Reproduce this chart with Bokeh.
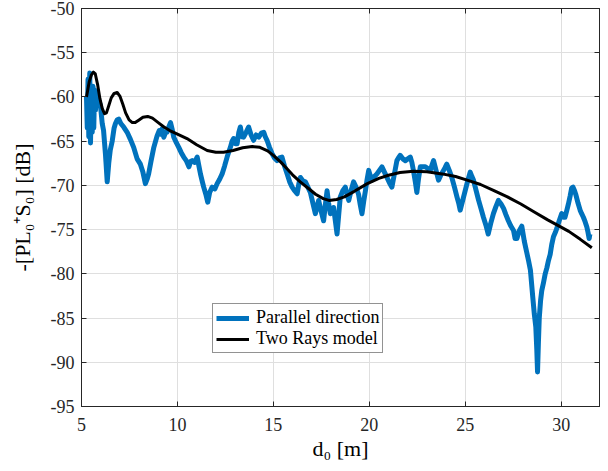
from bokeh.plotting import figure
from bokeh.models import LinearAxis, FixedTicker, Legend, LegendItem, Range1d
from bokeh.embed import file_html
from bokeh.resources import INLINE

# Measured received level along the parallel direction
d_meas = [5.26, 5.30, 5.34, 5.38, 5.43, 5.47, 5.52, 5.56, 5.60, 5.64, 5.68, 5.73,
          5.78, 5.84, 5.90, 5.99, 6.08, 6.15, 6.25, 6.34, 6.42, 6.50, 6.60, 6.70,
          6.77, 6.86, 6.94, 7.05, 7.20, 7.38, 7.55, 7.72, 7.90, 8.07, 8.20, 8.33,
          8.42, 8.50, 8.62, 8.77, 8.94, 9.05, 9.11, 9.20, 9.29, 9.38, 9.46, 9.55,
          9.64, 9.72, 9.81, 9.95, 10.07, 10.20, 10.33, 10.46, 10.60, 10.69, 10.77,
          10.90, 11.03, 11.12, 11.20, 11.30, 11.37, 11.48, 11.58, 11.68, 11.81,
          11.95, 12.07, 12.20, 12.33, 12.46, 12.59, 12.68, 12.76, 12.85, 12.93,
          13.02, 13.11, 13.20, 13.28, 13.37, 13.45, 13.58, 13.71, 13.84, 13.97,
          14.10, 14.24, 14.37, 14.50, 14.58, 14.67, 14.80, 14.93, 15.06, 15.19,
          15.32, 15.45, 15.58, 15.72, 15.85, 15.98, 16.11, 16.24, 16.33, 16.41,
          16.54, 16.67, 16.80, 16.93, 17.06, 17.19, 17.28, 17.36, 17.50, 17.62,
          17.71, 17.80, 17.88, 17.97, 18.06, 18.14, 18.23, 18.32, 18.40, 18.49,
          18.62, 18.75, 18.84, 18.93, 19.05, 19.18, 19.31, 19.44, 19.53, 19.62,
          19.71, 19.80, 19.88, 19.97, 20.05, 20.14, 20.27, 20.40, 20.53, 20.66,
          20.79, 20.92, 21.05, 21.18, 21.31, 21.44, 21.52, 21.61, 21.75, 21.88,
          22.01, 22.14, 22.22, 22.30, 22.40, 22.48, 22.57, 22.66, 22.79, 22.92,
          23.05, 23.18, 23.27, 23.35, 23.48, 23.61, 23.74, 23.87, 23.95, 24.04,
          24.17, 24.30, 24.44, 24.57, 24.66, 24.74, 24.87, 25.00, 25.13, 25.26,
          25.35, 25.43, 25.56, 25.70, 25.82, 25.95, 26.08, 26.20, 26.33, 26.47,
          26.60, 26.73, 26.87, 27.00, 27.12, 27.25, 27.38, 27.52, 27.60, 27.70,
          27.80, 27.95, 28.08, 28.20, 28.30, 28.40, 28.52, 28.60, 28.68, 28.73,
          28.77, 28.82, 28.86, 28.93, 28.99, 29.08, 29.17, 29.26, 29.34, 29.43,
          29.51, 29.60, 29.70, 29.77, 29.90, 30.03, 30.12, 30.20, 30.30, 30.38,
          30.47, 30.55, 30.62, 30.70, 30.76, 30.88, 30.99, 31.07, 31.16, 31.25,
          31.34, 31.40, 31.46, 31.50]
level_meas = [-60.0, -63.5, -58.0, -64.5, -57.3, -65.2, -59.0, -64.0, -58.8, -63.5,
              -59.2, -61.5, -59.4, -60.2, -60.4, -61.0, -63.0, -63.8, -66.5, -69.6,
              -67.5, -66.0, -65.0, -63.5, -63.0, -62.6, -62.5, -63.0, -63.4, -64.0,
              -64.8, -65.7, -67.0, -67.6, -68.5, -69.8, -69.3, -68.7, -67.3, -65.7,
              -64.4, -63.8, -64.2, -63.6, -64.55, -64.0, -64.0, -63.4, -62.9, -63.6,
              -64.55, -65.2, -65.7, -66.3, -66.8, -67.2, -67.9, -67.3, -67.2, -67.4,
              -66.8, -67.8, -68.7, -69.6, -70.2, -71.0, -71.9, -70.8, -70.2, -70.4,
              -69.8, -69.3, -68.7, -67.8, -66.8, -66.2, -65.7, -65.0, -64.7, -65.3,
              -65.3, -64.0, -63.4, -64.5, -64.55, -64.0, -63.4, -64.3, -64.9, -64.3,
              -64.55, -64.1, -64.0, -64.5, -64.9, -65.7, -66.4, -66.9, -67.2, -66.9,
              -66.8, -67.8, -68.7, -69.6, -70.2, -70.6, -70.95, -69.8, -69.1, -69.5,
              -69.6, -70.2, -70.8, -72.0, -73.2, -72.4, -71.7, -73.0, -74.0, -72.2,
              -70.6, -72.0, -73.2, -72.8, -72.5, -74.0, -75.5, -73.5, -71.3, -70.6,
              -70.2, -71.0, -71.7, -70.6, -69.6, -70.2, -71.0, -72.2, -73.2, -71.8,
              -70.6, -69.4, -68.3, -68.9, -69.4, -69.0, -68.7, -68.3, -67.9, -68.5,
              -69.1, -69.7, -70.2, -68.7, -67.2, -66.9, -66.6, -67.0, -67.2, -67.0,
              -66.8, -67.4, -68.3, -69.6, -70.8, -69.2, -67.9, -67.9, -67.9, -68.1,
              -68.3, -67.7, -67.2, -68.3, -69.4, -68.8, -68.3, -68.0, -67.6, -68.3,
              -69.1, -70.2, -71.3, -72.0, -72.8, -71.7, -70.6, -69.5, -68.5, -69.0,
              -69.4, -70.5, -71.7, -72.6, -73.6, -74.5, -75.5, -74.3, -73.2, -72.4,
              -71.7, -72.1, -72.6, -73.3, -74.0, -74.6, -75.1, -76.0, -76.0, -75.2,
              -74.6, -76.3, -77.5, -78.5, -79.6, -82.6, -84.5, -86.0, -88.5, -91.1,
              -87.5, -85.0, -83.0, -81.9, -81.0, -80.0, -79.3, -78.5, -77.8, -76.7,
              -75.8, -75.3, -74.9, -74.0, -73.2, -73.6, -73.6, -72.8, -72.1, -71.2,
              -70.3, -70.2, -70.6, -71.0, -72.0, -72.8, -73.2, -73.6, -74.1, -74.7,
              -75.3, -76.0, -75.5]

# Two-ray model prediction
d_model = [5.26, 5.40, 5.52, 5.62, 5.72, 5.84, 5.96, 6.08, 6.20, 6.30, 6.42, 6.55,
           6.70, 6.86, 7.00, 7.15, 7.30, 7.48, 7.65, 7.80, 8.00, 8.20, 8.45, 8.70,
           9.00, 9.30, 9.60, 10.00, 10.50, 11.00, 11.55, 12.00, 12.40, 12.90, 13.40,
           13.90, 14.30, 14.70, 15.00, 15.40, 15.70, 16.00, 16.40, 16.80, 17.20,
           17.60, 17.90, 18.30, 18.70, 19.20, 19.90, 20.50, 21.00, 21.60, 22.30,
           23.00, 23.80, 24.50, 25.10, 25.80, 26.50, 27.20, 27.90, 28.60, 29.30,
           29.90, 30.40, 31.00, 31.60]
level_model = [-60.0, -58.3, -57.5, -57.2, -57.4, -58.6, -60.2, -61.3, -61.9, -61.8,
               -61.0, -60.1, -59.6, -59.5, -59.9, -60.8, -61.8, -62.6, -62.9, -62.9,
               -62.6, -62.3, -62.2, -62.4, -62.9, -63.4, -63.8, -64.2, -64.7, -65.4,
               -66.05, -66.25, -66.25, -66.05, -65.75, -65.6, -65.7, -66.1, -66.6,
               -67.4, -68.1, -68.8, -69.6, -70.3, -71.0, -71.5, -71.7, -71.6, -71.3,
               -70.7, -69.8, -69.2, -68.85, -68.55, -68.4, -68.45, -68.7, -69.0,
               -69.4, -69.9, -70.6, -71.3, -72.1, -73.0, -73.9, -74.6, -75.2, -76.1,
               -77.06]

x_ticks = [5, 10, 15, 20, 25, 30]
x_tick_labels = ["5", "10", "15", "20", "25", "30"]
y_ticks = [-95, -90, -85, -80, -75, -70, -65, -60, -55, -50]
y_tick_labels = ["-95", "-90", "-85", "-80", "-75", "-70", "-65", "-60", "-55", "-50"]
series_names = ["Parallel direction", "Two Rays model"]
x_title = "d\u2080 [m]"
y_title = "-[PL\u2080\u207aS\u2080] [dB]"

SERIF = "Liberation Serif, Times New Roman, serif"
AX = "#262626"
BLUE = "#0072BD"

p = figure(width=608, height=471, output_backend="svg", toolbar_location=None,
           x_range=Range1d(5, 32), y_range=Range1d(-95, -50),
           min_border_left=81, min_border_right=9, min_border_top=8,
           min_border_bottom=65)
p.background_fill_color = "white"
p.border_fill_color = "white"
p.outline_line_color = AX
p.outline_line_width = 1

for ax in (p.xaxis[0], p.yaxis[0]):
    ax.axis_line_color = AX
    ax.major_tick_line_color = AX
    ax.major_tick_in = 5
    ax.major_tick_out = 0
    ax.minor_tick_line_color = None
    ax.major_label_text_font = SERIF
    ax.major_label_text_font_style = "normal"
    ax.major_label_text_font_size = "18px"
    ax.major_label_text_color = AX
    ax.axis_label_text_font = SERIF
    ax.axis_label_text_font_size = "22px"
    ax.axis_label_text_font_style = "normal"
    ax.axis_label_text_color = "black"
p.xaxis.ticker = FixedTicker(ticks=x_ticks)
p.yaxis.ticker = FixedTicker(ticks=y_ticks)
p.xaxis.major_label_overrides = dict(zip(x_ticks, x_tick_labels))
p.yaxis.major_label_overrides = dict(zip(y_ticks, y_tick_labels))
p.xaxis.major_label_standoff = 11
p.yaxis.major_label_standoff = 7
p.xaxis.axis_label = x_title
p.yaxis.axis_label = y_title
p.xaxis.axis_label_standoff = 2
p.yaxis.axis_label_standoff = 13

# tick marks on the top and right edges of the box (no labels there)
for side, ticks in (("above", x_ticks), ("right", y_ticks)):
    edge = LinearAxis(ticker=FixedTicker(ticks=ticks), major_tick_in=5,
                      major_tick_out=0, minor_tick_line_color=None,
                      major_label_overrides={t: "" for t in ticks},
                      major_label_text_color=None, major_label_text_alpha=0,
                      major_label_text_font_size="1px", major_label_standoff=0,
                      axis_line_color=AX, major_tick_line_color=AX)
    p.add_layout(edge, side)

p.xgrid.ticker = FixedTicker(ticks=x_ticks)
p.ygrid.ticker = FixedTicker(ticks=y_ticks)
p.xgrid.grid_line_color = "#dfdfdf"
p.ygrid.grid_line_color = "#dfdfdf"

r_meas = p.line(d_meas, level_meas, line_color=BLUE, line_width=5, line_join="round")
r_model = p.line(d_model, level_model, line_color="black", line_width=3, line_join="round")

legend = Legend(items=[LegendItem(label=series_names[0], renderers=[r_meas]),
                       LegendItem(label=series_names[1], renderers=[r_model])],
                location=(131, 53), orientation="vertical")
legend.label_text_font = SERIF
legend.label_text_font_style = "normal"
legend.label_text_font_size = "18px"
legend.label_text_color = "black"
legend.border_line_color = AX
legend.border_line_width = 1
legend.background_fill_color = "white"
legend.background_fill_alpha = 1
legend.padding = 3
legend.spacing = 0
legend.margin = 0
legend.glyph_width = 33
legend.glyph_height = 16
legend.label_height = 16
legend.label_standoff = 7
p.add_layout(legend, "center")

open("out.html", "w").write(file_html(p, INLINE))
